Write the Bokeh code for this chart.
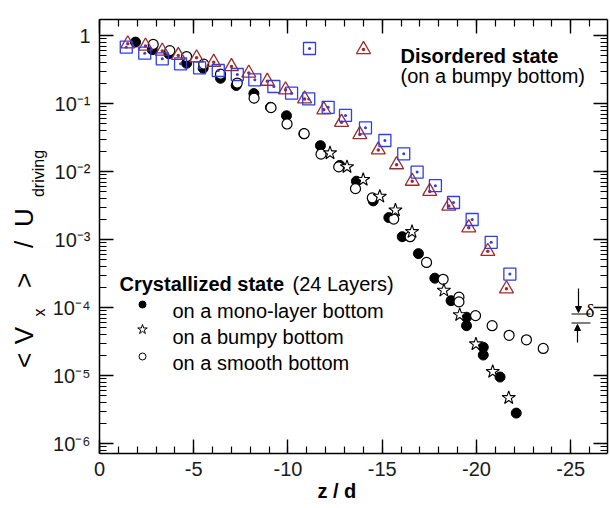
from math import pi, log10
from bokeh.plotting import figure
from bokeh.layouts import row
from bokeh.core.properties import value
from bokeh.models import (Range1d, FixedTicker, LinearAxis, LogAxis,
                          CustomJSTickFormatter, Label, Arrow, NormalHead)
from bokeh.embed import file_html
from bokeh.resources import INLINE

# ---------------- data ----------------
# Crystallized state, mono-layer bottom (filled circles)
mono_z = [-1.91, -2.80, -3.68, -4.62, -5.50, -6.42, -7.25, -8.19, -9.07, -9.92,
          -10.84, -11.72, -12.75, -13.63, -14.52, -15.35, -16.06, -16.92, -17.79,
          -18.65, -19.47, -19.47, -20.36, -20.36, -21.25, -22.11]
mono_v = [0.80, 0.62, 0.54, 0.39, 0.33, 0.235, 0.184, 0.140, 0.088, 0.066,
          0.036, 0.024, 0.0123, 0.0072, 0.0037, 0.0021, 0.0011, 6.2e-4, 2.7e-4,
          1.26e-4, 7.2e-5, 5.4e-5, 2.6e-5, 2.0e-5, 9.5e-6, 2.8e-6]

# Crystallized state, bumpy bottom (stars)
bumpy_z = [-12.23, -13.13, -13.99, -14.87, -15.70, -16.58, -18.27, -19.11,
           -19.97, -20.86, -21.71]
bumpy_v = [0.0187, 0.0117, 0.0076, 0.0043, 0.0027, 0.0013, 1.78e-4, 7.8e-5,
           2.9e-5, 1.14e-5, 4.7e-6]

# Crystallized state, smooth bottom (open circles)
smooth_z = [-2.85, -3.73, -4.62, -5.53, -6.42, -7.31, -8.20, -9.10, -9.95,
            -10.86, -11.75, -12.69, -13.58, -14.47, -15.61, -16.48, -17.35,
            -18.23, -19.07, -19.07, -19.95, -20.83, -21.73, -22.65, -23.54]
smooth_v = [0.74, 0.60, 0.49, 0.38, 0.27, 0.20, 0.12, 0.087, 0.050, 0.036,
            0.018, 0.0117, 0.0056, 0.0041, 0.0020, 0.0011, 4.6e-4, 2.6e-4,
            1.42e-4, 1.21e-4, 7.6e-5, 5.4e-5, 3.9e-5, 3.35e-5, 2.5e-5]

# Disordered state (triangles)
dis_tri_z = [-1.50, -2.44, -3.33, -4.18, -5.15, -6.06, -7.00, -7.92, -8.90,
             -9.87, -10.88, -11.90, -12.84, -13.81, -14.79, -15.76, -16.59,
             -17.52, -18.53, -19.59, -20.60, -21.59]
dis_tri_v = [0.755, 0.70, 0.59, 0.51, 0.47, 0.405, 0.35, 0.28, 0.213, 0.159,
             0.117, 0.081, 0.053, 0.035, 0.0208, 0.0126, 0.0072, 0.0051, 0.0031,
             0.00149, 6.7e-4, 1.88e-4]

# Disordered state (squares)
dis_sq_z = [-1.42, -2.40, -3.33, -4.30, -5.31, -6.30, -7.31, -8.24, -9.25,
            -10.19, -11.10, -12.13, -13.05, -14.11, -15.14, -16.14, -16.85,
            -17.82, -18.78, -19.77, -20.78, -21.77]
dis_sq_v = [0.673, 0.549, 0.454, 0.384, 0.335, 0.306, 0.267, 0.223, 0.178,
            0.142, 0.117, 0.088, 0.0667, 0.0439, 0.0286, 0.0182, 0.0098, 0.0062,
            0.0035, 0.00197, 9.1e-4, 3.1e-4]

x_major = [0, -5, -10, -15, -20, -25]
x_minor = list(range(0, -27, -1))
y_major = [1e-6, 1e-5, 1e-4, 1e-3, 1e-2, 1e-1, 1.0]
y_minor = [m * 10.0 ** e for e in range(-7, 1) for m in range(2, 10)]

# y-axis title pieces: text, font size, centre x and centre y (strip pixels)
ylabel_text = ["<", "V", "x", ">", "/", "U", "driving"]
ylabel_size = [26, 26, 16, 26, 26, 26, 16]
ylabel_cx = [23, 23, 39, 23, 23, 23, 38]
ylabel_cy = [360, 335, 312, 280, 244, 217, 173]

X_TITLE = "z / d"

# ---------------- layout ----------------
TOTAL_W, TOTAL_H = 610, 508
LW = 48                                   # width of the strip holding the y title
FL, FR, FT, FB = 99, 607, 19, 453         # frame edges in page pixels
X_START, X_END = 0, -26.95
Y_TOP, Y_BOT = 1.72, 7.13e-7

BLUE = "#2f3cf0"
RED = "#9e2a2a"
FONT = "Liberation Sans"


def blank(fig):
    fig.outline_line_color = None
    fig.grid.visible = False
    fig.background_fill_color = "white"
    fig.border_fill_color = "white"


# strip for the rotated y-axis title
lf = figure(width=LW, height=TOTAL_H, x_range=Range1d(0, LW),
            y_range=Range1d(TOTAL_H - FB, TOTAL_H - FT),
            min_border_left=0, min_border_right=0,
            min_border_top=FT, min_border_bottom=TOTAL_H - FB,
            x_axis_location=None, y_axis_location=None,
            output_backend="svg", toolbar_location=None)
blank(lf)
lf.text(x=ylabel_cx, y=[TOTAL_H - v for v in ylabel_cy], text=ylabel_text,
        text_font_size=[f"{s}px" for s in ylabel_size], angle=pi / 2,
        text_font=value(FONT), text_align="center", text_baseline="middle",
        text_color="black")

p = figure(width=TOTAL_W - LW, height=TOTAL_H,
           x_range=Range1d(X_START, X_END), y_range=Range1d(Y_BOT, Y_TOP),
           y_axis_type="log", output_backend="svg", toolbar_location=None,
           min_border_left=FL - LW, min_border_right=TOTAL_W - FR,
           min_border_top=FT, min_border_bottom=TOTAL_H - FB)
blank(p)

xticker = FixedTicker(ticks=x_major, minor_ticks=x_minor)
yticker = FixedTicker(ticks=y_major, minor_ticks=y_minor)

empty_fmt = CustomJSTickFormatter(code="return '';")
x_fmt = CustomJSTickFormatter(code="return String(Math.round(tick));")
y_fmt = CustomJSTickFormatter(code=r"""
const e = Math.round(Math.log10(tick));
if (e === 0) { return "1"; }
const sup = {"-": "\u207b", "0": "\u2070", "1": "\u00b9", "2": "\u00b2",
             "3": "\u00b3", "4": "\u2074", "5": "\u2075", "6": "\u2076",
             "7": "\u2077", "8": "\u2078", "9": "\u2079"};
return "10" + String(e).split("").map(c => sup[c]).join("");
""")


def style_axis(ax):
    ax.axis_label = None
    ax.axis_line_color = "black"
    ax.axis_line_width = 1.5
    ax.major_tick_line_color = "black"
    ax.major_tick_line_width = 1.4
    ax.minor_tick_line_color = "black"
    ax.minor_tick_line_width = 1.2
    ax.major_tick_in = 14
    ax.major_tick_out = 0
    ax.minor_tick_in = 7
    ax.minor_tick_out = 0
    ax.major_label_text_font = FONT
    ax.major_label_text_font_size = "20px"
    ax.major_label_text_color = "#1a1a1a"


xa = p.xaxis[0]
style_axis(xa)
xa.ticker = xticker
xa.formatter = x_fmt
xa.major_label_standoff = 8
# x title drawn by the axis itself (annotations outside the frame are clipped);
# trailing no-break spaces shift the centred title left, as in the reference
xa.axis_label = X_TITLE + "\u00a0" * 6
xa.axis_label_text_font = FONT
xa.axis_label_text_font_size = "20px"
xa.axis_label_text_font_style = "bold"
xa.axis_label_text_color = "black"
xa.axis_label_standoff = 1

ya = p.yaxis[0]
style_axis(ya)
ya.ticker = yticker
ya.formatter = y_fmt
ya.major_label_standoff = 9

top = LinearAxis(ticker=xticker, formatter=empty_fmt)
style_axis(top)
top.major_label_text_font_size = "0px"
top.major_label_standoff = 0
p.add_layout(top, "above")

right = LogAxis(ticker=yticker, formatter=empty_fmt)
style_axis(right)
right.major_label_text_font_size = "0px"
right.major_label_standoff = 0
p.add_layout(right, "right")

# ---------------- data marks ----------------
p.scatter(mono_z, mono_v, marker="circle", size=10,
          fill_color="black", line_color="black", line_width=1)
p.scatter(smooth_z, smooth_v, marker="circle", size=10,
          fill_color="white", line_color="black", line_width=1.2)
p.scatter(bumpy_z, bumpy_v, marker="star", size=14,
          fill_color="white", line_color="black", line_width=1.1)
p.scatter(dis_tri_z, dis_tri_v, marker="triangle_dot", size=14,
          fill_color=None, line_color=RED, line_width=1.3)
p.scatter(dis_sq_z, dis_sq_v, marker="square_dot", size=12,
          fill_color=None, line_color=BLUE, line_width=1.3)

# ---------------- helpers for annotations (page pixel anchors) ----------------
LT, LB = log10(Y_TOP), log10(Y_BOT)


def dx(px):
    return X_START + (px - FL) / (FR - FL) * (X_END - X_START)


def dy(py):
    return 10 ** (LT + (py - FT) / (FB - FT) * (LB - LT))


def lab(px, py, text, size, style="normal", font=FONT):
    p.add_layout(Label(x=px - FL, y=FB - py, x_units="screen", y_units="screen",
                       text=text, text_font=font, text_font_size=f"{size}px",
                       text_font_style=style, text_color="black",
                       text_align="left", text_baseline="alphabetic"))


def seg(x0, y0, x1, y1, head=None):
    p.add_layout(Arrow(x_start=x0 - FL, y_start=FB - y0, x_end=x1 - FL, y_end=FB - y1,
                       start_units="screen", end_units="screen", end=head,
                       line_color="black", line_width=1.2))


# legend: disordered state
p.scatter([dx(309)], [dy(48)], marker="square_dot", size=12,
          fill_color=None, line_color=BLUE, line_width=1.3)
p.scatter([dx(363)], [dy(49)], marker="triangle_dot", size=14,
          fill_color=None, line_color=RED, line_width=1.3)
lab(400, 55, "Disordered state", 20, "bold")
lab(400, 75, "(on a bumpy bottom)", 20)

# legend: crystallized state
lab(119, 283, "Crystallized state", 20, "bold")
lab(292, 283, "(24 Layers)", 20)
p.scatter([dx(142)], [dy(304)], marker="circle", size=7,
          fill_color="black", line_color="black")
p.scatter([dx(142)], [dy(329)], marker="star", size=10,
          fill_color="white", line_color="black", line_width=1)
p.scatter([dx(142)], [dy(356)], marker="circle", size=7,
          fill_color="white", line_color="black", line_width=1)
lab(172, 310, "on a mono-layer bottom", 20)
lab(172, 336, "on a bumpy bottom", 20)
lab(172, 362, "on a smooth bottom", 20)

# delta marker
seg(578, 288, 578, 312, NormalHead(size=6, fill_color="black", line_color="black"))
seg(577, 342, 577, 324, NormalHead(size=6, fill_color="black", line_color="black"))
seg(571, 313.5, 590, 313.5)
seg(571, 322.5, 590, 322.5)
lab(585, 310, "\u03b4", 19, "normal", "Liberation Serif")

layout = row(lf, p)
open("out.html", "w", encoding="utf-8").write(file_html(layout, INLINE, "chart"))
